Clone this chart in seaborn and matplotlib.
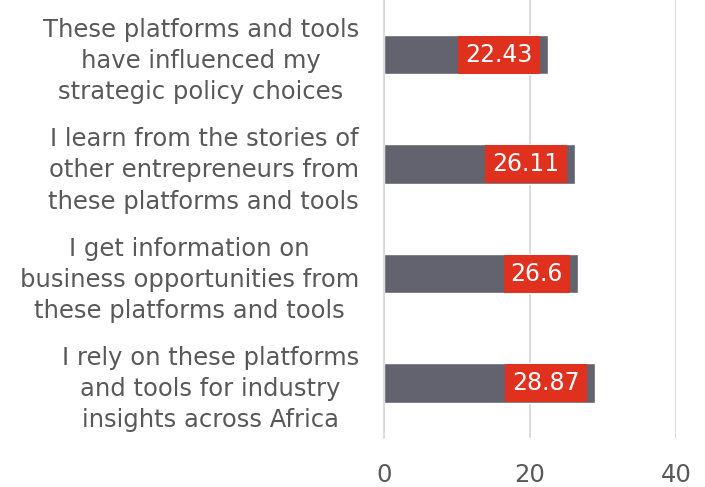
import matplotlib
matplotlib.use("Agg")
import matplotlib.pyplot as plt
import seaborn as sns
import pandas as pd

statements = [
    "These platforms and tools\nhave influenced my\nstrategic policy choices",
    "I learn from the stories of\nother entrepreneurs from\nthese platforms and tools",
    "I get information on\nbusiness opportunities from\nthese platforms and tools",
    "I rely on these platforms\nand tools for industry\ninsights across Africa",
]
scores = [22.43, 26.11, 26.6, 28.87]
x_ticks = [0, 20, 40]

BAR = "#636370"
RED = "#E0301E"
TEXT = "#595959"
GRID = "#D9D9D9"

sns.set_theme(style="white")
plt.rcParams["font.family"] = ["DejaVu Sans"]

df = pd.DataFrame({"statement": statements, "score": scores})

fig = plt.figure(figsize=(7.05, 4.87), dpi=100)
ax = fig.add_axes([0.545, 0.101, 0.414, 0.899])

sns.barplot(data=df, x="score", y="statement", color=BAR, saturation=1,
            width=0.36, ax=ax)

ax.set_xlim(0, 40)
ax.set_ylim(3.5, -0.5)
ax.set_xticks(x_ticks)
ax.set_xticklabels([str(t) for t in x_ticks])
ax.set_xlabel("")
ax.set_ylabel("")

ax.grid(axis="x", color=GRID, linewidth=1.3)
ax.set_axisbelow(True)
for side in ["top", "right", "bottom"]:
    ax.spines[side].set_visible(False)
ax.spines["left"].set_color(GRID)
ax.spines["left"].set_linewidth(1.3)

ax.tick_params(axis="x", length=0, pad=18, labelsize=17.5, labelcolor=TEXT)
ax.tick_params(axis="y", length=0, pad=18, labelsize=17.5, labelcolor=TEXT)
for lbl in ax.get_yticklabels():
    lbl.set_multialignment("center")
    lbl.set_linespacing(1.38)

for i, v in enumerate(scores):
    ax.annotate(f"{v:g}", xy=(v, i), xytext=(-11, 0), textcoords="offset points",
                ha="right", va="center", color="white", fontsize=17,
                bbox=dict(boxstyle="square,pad=0.3", fc=RED, ec="none"))

fig.savefig("out.png", dpi=100)
